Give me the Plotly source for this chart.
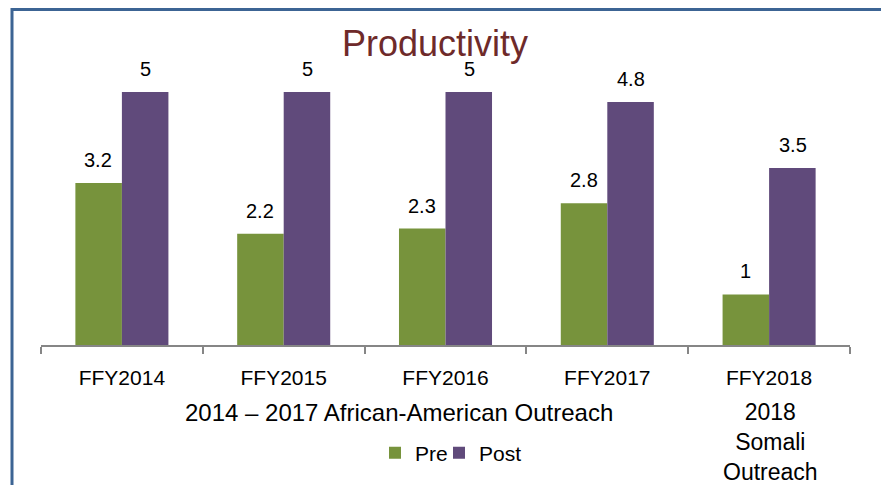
import plotly.graph_objects as go

categories = ["FFY2014", "FFY2015", "FFY2016", "FFY2017", "FFY2018"]
pre_values = [3.2, 2.2, 2.3, 2.8, 1]
post_values = [5, 5, 5, 4.8, 3.5]
series_names = ["Pre", "Post"]
title_text = "Productivity"
group_label_1 = "2014 – 2017 African-American Outreach"
group_label_2 = "2018<br>Somali<br>Outreach"

GREEN = "#77933C"
PURPLE = "#604A7B"
FONT = "Liberation Sans, Arial, sans-serif"

W, H = 881, 485
AX_L, AX_R, AX_TOP, AX_BASE = 41, 850, 40, 345
L = AX_L
R = W - AX_R
T = AX_TOP
B = H - AX_BASE
plot_w = W - L - R
plot_h = H - T - B
px_per_unit = 50.6
ymax = plot_h / px_per_unit


def px_x(p):
    return (p - AX_L) / plot_w


def px_y(p):
    return (AX_BASE - p) / plot_h


fig = go.Figure()
fig.add_trace(go.Bar(x=categories, y=pre_values, name=series_names[0],
                     legend="legend",
                     marker=dict(color=GREEN, line=dict(width=0))))
fig.add_trace(go.Bar(x=categories, y=post_values, name=series_names[1],
                     legend="legend2",
                     marker=dict(color=PURPLE, line=dict(width=0))))

annotations = []
for vals, dx in ((pre_values, -23.5), (post_values, 23.5)):
    for c, v in zip(categories, vals):
        annotations.append(dict(x=c, y=v, xref="x", yref="y", text=f"{v:g}",
                                showarrow=False, xshift=dx, yshift=10,
                                xanchor="center", yanchor="bottom",
                                font=dict(family=FONT, size=20, color="#000000")))

annotations.append(dict(x=px_x(398.5), y=px_y(413), xref="paper", yref="paper",
                        text=group_label_1, showarrow=False,
                        xanchor="center", yanchor="middle",
                        font=dict(family=FONT, size=24, color="#000000")))
annotations.append(dict(x=px_x(770), y=px_y(442), xref="paper", yref="paper",
                        text=group_label_2, showarrow=False,
                        xanchor="center", yanchor="middle",
                        font=dict(family=FONT, size=23, color="#000000")))

legend_common = dict(orientation="h", yanchor="middle", xanchor="left",
                     xref="paper", yref="paper",
                     font=dict(family=FONT, size=21, color="#000000"),
                     bgcolor="rgba(0,0,0,0)", itemwidth=30)

fig.update_layout(
    width=W, height=H,
    margin=dict(l=L, r=R, t=T, b=B, autoexpand=False),
    paper_bgcolor="white", plot_bgcolor="white",
    barmode="group", bargap=0.425, bargroupgap=0,
    title=dict(text=title_text, x=px_x(435), xref="paper", xanchor="center",
               y=1 - 43 / H, yanchor="middle",
               font=dict(family=FONT, size=36, color="#6E2A2A")),
    showlegend=True,
    legend=dict(x=px_x(375), y=px_y(453), **legend_common),
    legend2=dict(x=px_x(439), y=px_y(453), **legend_common),
    xaxis=dict(showline=True, linecolor="#868686", linewidth=2,
               ticks="outside", ticklen=7, tickcolor="#868686", tickwidth=2,
               tickson="boundaries", showgrid=False, zeroline=False,
               tickfont=dict(family=FONT, size=21, color="#000000"),
               ticklabelstandoff=13),
    yaxis=dict(range=[0, ymax], visible=False, showgrid=False, zeroline=False),
    annotations=annotations,
    shapes=[dict(type="rect", xref="paper", yref="paper",
                 x0=px_x(12), x1=px_x(900), y0=px_y(520), y1=px_y(9.5),
                 line=dict(color="#3C6494", width=3), fillcolor="rgba(0,0,0,0)")],
)

fig.write_html("out.html",
               config={"displayModeBar": False},
               post_script="document.body.style.margin='0';"
                           "document.body.style.overflow='hidden';")
